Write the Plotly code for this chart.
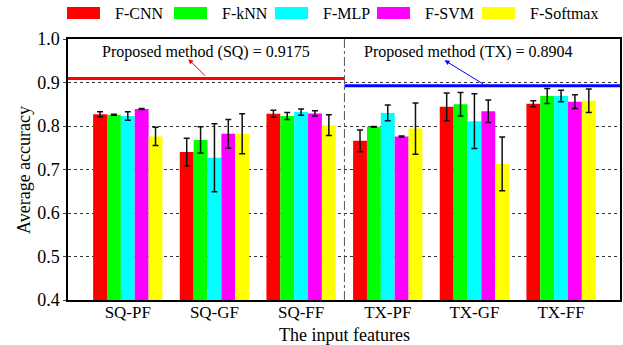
import plotly.graph_objects as go

categories = ["SQ-PF", "SQ-GF", "SQ-FF", "TX-PF", "TX-GF", "TX-FF"]
series_names = ["F-CNN", "F-kNN", "F-MLP", "F-SVM", "F-Softmax"]
colors = ["#FF0000", "#00FF00", "#00FFFF", "#FF00FF", "#FFFF00"]

cnn = [0.827, 0.740, 0.828, 0.766, 0.844, 0.851]
cnn_err = [0.006, 0.032, 0.008, 0.025, 0.032, 0.007]
knn = [0.826, 0.768, 0.823, 0.798, 0.850, 0.869]
knn_err = [0.001, 0.030, 0.008, 0.001, 0.027, 0.017]
mlp = [0.823, 0.727, 0.832, 0.830, 0.811, 0.869]
mlp_err = [0.010, 0.078, 0.007, 0.018, 0.063, 0.013]
svm = [0.839, 0.782, 0.829, 0.776, 0.834, 0.856]
svm_err = [0.001, 0.033, 0.006, 0.001, 0.026, 0.016]
softmax = [0.776, 0.782, 0.802, 0.794, 0.713, 0.858]
softmax_err = [0.021, 0.046, 0.024, 0.059, 0.062, 0.027]

values = [cnn, knn, mlp, svm, softmax]
errors = [cnn_err, knn_err, mlp_err, svm_err, softmax_err]

sq_line = 0.909   # drawn level of "Proposed method (SQ)"
tx_line = 0.8925  # drawn level of "Proposed method (TX)"
sq_label = "Proposed method (SQ) = 0.9175"
tx_label = "Proposed method (TX) = 0.8904"

x_range = [-0.69, 5.68]
y_range = [0.4, 1.0]
divider = 2.5

FONT = "Liberation Serif"

fig = go.Figure()
for name, col, v, e in zip(series_names, colors, values, errors):
    fig.add_trace(go.Bar(
        x=categories, y=v, name=name, marker=dict(color=col, line=dict(width=0)),
        error_y=dict(type="data", array=e, visible=True, color="#111111",
                     thickness=1.5, width=3),
        showlegend=False,
    ))

# Proposed method lines
fig.add_shape(type="line", xref="x", yref="y", x0=x_range[0], x1=divider,
              y0=sq_line, y1=sq_line, line=dict(color="#FF0000", width=3))
fig.add_shape(type="line", xref="x", yref="y", x0=divider, x1=x_range[1],
              y0=tx_line, y1=tx_line, line=dict(color="#0000FF", width=3))
# divider
fig.add_shape(type="line", xref="x", yref="paper", x0=divider, x1=divider,
              y0=0, y1=1, line=dict(color="#555555", width=1, dash="dashdot"))

# labels + arrows
fig.add_annotation(x=0.908, y=0.970, xref="x", yref="y", text=sq_label,
                   showarrow=False, font=dict(family=FONT, size=16, color="black"))
fig.add_annotation(x=3.93, y=0.970, xref="x", yref="y", text=tx_label,
                   showarrow=False, font=dict(family=FONT, size=16, color="black"))
fig.add_annotation(x=0.698, y=0.9537, ax=0.911, ay=sq_line + 0.003, xref="x", yref="y",
                   axref="x", ayref="y", text="", showarrow=True, arrowhead=2,
                   arrowsize=1, arrowwidth=1, arrowcolor="#FF0000")
fig.add_annotation(x=3.656, y=0.951, ax=4.118, ay=tx_line + 0.002, xref="x", yref="y",
                   axref="x", ayref="y", text="", showarrow=True, arrowhead=2,
                   arrowsize=1, arrowwidth=1, arrowcolor="#0000FF")

# manual legend (wide swatches)
L, R, T, B = 68, 620, 39, 300
def px_to_paper(px, py):
    return (px - L) / (R - L), (B - py) / (B - T)

sw_x = [67, 174, 275, 377, 482]
for sx, name, col in zip(sw_x, series_names, colors):
    x0, y0 = px_to_paper(sx, 19)
    x1, y1 = px_to_paper(sx + 33, 7)
    fig.add_shape(type="rect", xref="paper", yref="paper", x0=x0, x1=x1, y0=y0, y1=y1,
                  fillcolor=col, line=dict(width=0))
    tx, ty = px_to_paper(sx + 46, 13)
    fig.add_annotation(x=tx, y=ty, xref="paper", yref="paper", text=name, showarrow=False,
                       xanchor="left", yanchor="middle",
                       font=dict(family=FONT, size=16, color="black"))

# axis titles
ax_x, ax_y = px_to_paper(24, 170)
fig.add_annotation(x=ax_x, y=ax_y, xref="paper", yref="paper", text="Average accuracy",
                   showarrow=False, textangle=-90, xanchor="center", yanchor="middle",
                   font=dict(family=FONT, size=18, color="black"))
tx_x, tx_y = px_to_paper(344, 335)
fig.add_annotation(x=tx_x, y=tx_y, xref="paper", yref="paper", text="The input features",
                   showarrow=False, xanchor="center", yanchor="middle",
                   font=dict(family=FONT, size=18, color="black"))

fig.update_layout(
    width=623, height=345,
    margin=dict(l=L, r=623 - R, t=T, b=345 - B, autoexpand=False),
    paper_bgcolor="white", plot_bgcolor="white",
    barmode="group", bargap=0.2, bargroupgap=0,
    font=dict(family=FONT, size=17, color="black"),
    xaxis=dict(range=x_range, showline=True, linecolor="black", linewidth=1.5,
               mirror=True, ticks="", showgrid=False, automargin=False,
               ticklabelstandoff=-4, tickfont=dict(size=17)),
    yaxis=dict(range=y_range, dtick=0.1, tickformat=".1f", showline=True,
               linecolor="black", linewidth=1.5, mirror=True, ticks="outside",
               ticklen=3, showgrid=True, gridcolor="#333333", griddash="dot",
               gridwidth=1, zeroline=False, automargin=False,
               tickfont=dict(size=18)),
    showlegend=False,
)

fig.write_html("out.html", config={"displayModeBar": False},
               post_script="document.body.style.margin='0';document.body.style.overflow='hidden';")
